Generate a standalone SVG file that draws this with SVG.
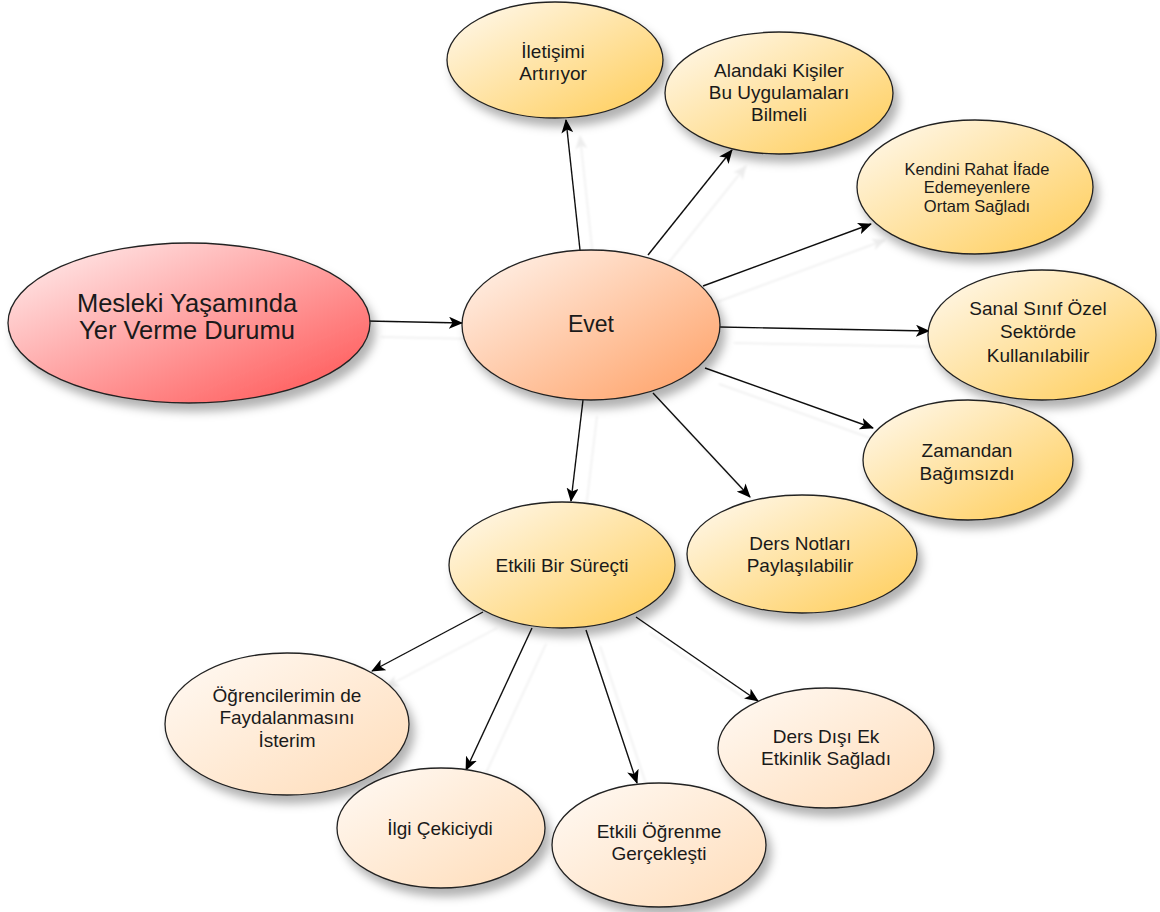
<svg xmlns="http://www.w3.org/2000/svg" width="1160" height="912" viewBox="0 0 1160 912">
<defs>
<linearGradient id="gMain" x1="0" y1="0" x2="1" y2="1"><stop offset="0" stop-color="#fff3f3"/><stop offset="1" stop-color="#ff4f4f"/></linearGradient>
<linearGradient id="gEvet" x1="0" y1="0" x2="1" y2="1"><stop offset="0" stop-color="#fff6f0"/><stop offset="1" stop-color="#ff9e62"/></linearGradient>
<linearGradient id="gYel" x1="0" y1="0" x2="1" y2="1"><stop offset="0" stop-color="#fffaf2"/><stop offset="1" stop-color="#ffcc55"/></linearGradient>
<linearGradient id="gPeach" x1="0" y1="0" x2="1" y2="1"><stop offset="0" stop-color="#fffaf5"/><stop offset="1" stop-color="#ffdcb8"/></linearGradient>
<filter id="sh" x="-20%" y="-20%" width="150%" height="160%"><feDropShadow dx="5" dy="8" stdDeviation="5" flood-color="#000" flood-opacity="0.3"/></filter>
<filter id="lsh" x="-20%" y="-20%" width="150%" height="150%"><feDropShadow dx="14" dy="16" stdDeviation="1.2" flood-color="#000" flood-opacity="0.07"/></filter>
<marker id="arr" viewBox="0 0 14 12" refX="13" refY="6" markerWidth="14" markerHeight="12" markerUnits="userSpaceOnUse" orient="auto"><path d="M0,0 L14,6 L0,12 L3.5,6 z" fill="#000"/></marker>
</defs>
<style>
.n{stroke:#222;stroke-width:1.3;filter:url(#sh)}
.c line{stroke:#111;stroke-width:1.4;marker-end:url(#arr)}
text{font-family:"Liberation Sans",Arial,sans-serif;fill:#1a1a1a;text-anchor:middle}
.t{font-size:19px}
.s{font-size:16.5px}
.b{font-size:25.5px}
</style>
<rect width="1160" height="912" fill="#fff"/>
<g id="connectors" class="c" filter="url(#lsh)">
<line x1="367" y1="321" x2="462" y2="323"/>
<line x1="580" y1="250" x2="566" y2="120"/>
<line x1="648" y1="255" x2="732" y2="150"/>
<line x1="703" y1="286" x2="871" y2="224"/>
<line x1="720" y1="327" x2="929" y2="331"/>
<line x1="705" y1="368" x2="873" y2="428"/>
<line x1="653" y1="393" x2="750" y2="497"/>
<line x1="583" y1="400" x2="571" y2="501"/>
<line x1="483" y1="612" x2="372" y2="671"/>
<line x1="532" y1="628" x2="466" y2="770"/>
<line x1="586" y1="630" x2="637" y2="783"/>
<line x1="636" y1="617" x2="758" y2="701"/>
</g>
<g id="n-main"><ellipse class="n" cx="189" cy="323" rx="181" ry="80" fill="url(#gMain)"/><text class="b" x="187" y="312">Mesleki Yaşamında</text><text class="b" x="187" y="339">Yer Verme Durumu</text></g>
<g id="n-evet"><ellipse class="n" cx="591" cy="325" rx="129" ry="75" fill="url(#gEvet)"/><text x="591" y="332" font-size="23">Evet</text></g>
<g id="n-iletisim"><ellipse class="n" cx="555" cy="60" rx="108" ry="58" fill="url(#gYel)"/><text class="t" x="553" y="58">İletişimi</text><text class="t" x="553" y="80">Artırıyor</text></g>
<g id="n-alandaki"><ellipse class="n" cx="779" cy="93" rx="114" ry="61" fill="url(#gYel)"/><text class="t" x="779" y="77">Alandaki Kişiler</text><text class="t" x="779" y="99">Bu Uygulamaları</text><text class="t" x="779" y="121">Bilmeli</text></g>
<g id="n-kendini"><ellipse class="n" cx="975" cy="187" rx="118" ry="67" fill="url(#gYel)"/><text class="s" x="977" y="175">Kendini Rahat İfade</text><text class="s" x="977" y="193">Edemeyenlere</text><text class="s" x="977" y="212">Ortam Sağladı</text></g>
<g id="n-sanal"><ellipse class="n" cx="1042" cy="335" rx="114" ry="65" fill="url(#gYel)"/><text class="t" x="1038" y="315">Sanal Sınıf Özel</text><text class="t" x="1038" y="338">Sektörde</text><text class="t" x="1038" y="362">Kullanılabilir</text></g>
<g id="n-zaman"><ellipse class="n" cx="968" cy="460" rx="105" ry="60" fill="url(#gYel)"/><text class="t" x="967" y="457">Zamandan</text><text class="t" x="967" y="480">Bağımsızdı</text></g>
<g id="n-notlar"><ellipse class="n" cx="802" cy="554" rx="115" ry="59" fill="url(#gYel)"/><text class="t" x="800" y="550">Ders Notları</text><text class="t" x="800" y="572">Paylaşılabilir</text></g>
<g id="n-etkili"><ellipse class="n" cx="562" cy="565" rx="113" ry="63" fill="url(#gYel)"/><text class="t" x="562" y="572">Etkili Bir Süreçti</text></g>
<g id="n-ogrenci"><ellipse class="n" cx="287" cy="724" rx="122" ry="71" fill="url(#gPeach)"/><text class="t" x="287" y="702">Öğrencilerimin de</text><text class="t" x="287" y="724">Faydalanmasını</text><text class="t" x="287" y="747">İsterim</text></g>
<g id="n-ilgi"><ellipse class="n" cx="441" cy="828" rx="104" ry="60" fill="url(#gPeach)"/><text class="t" x="440" y="835">İlgi Çekiciydi</text></g>
<g id="n-ogrenme"><ellipse class="n" cx="659" cy="845" rx="107" ry="62" fill="url(#gPeach)"/><text class="t" x="659" y="838">Etkili Öğrenme</text><text class="t" x="659" y="860">Gerçekleşti</text></g>
<g id="n-dersdisi"><ellipse class="n" cx="826" cy="748" rx="108" ry="60" fill="url(#gPeach)"/><text class="t" x="826" y="743">Ders Dışı Ek</text><text class="t" x="826" y="765">Etkinlik Sağladı</text></g>
</svg>
